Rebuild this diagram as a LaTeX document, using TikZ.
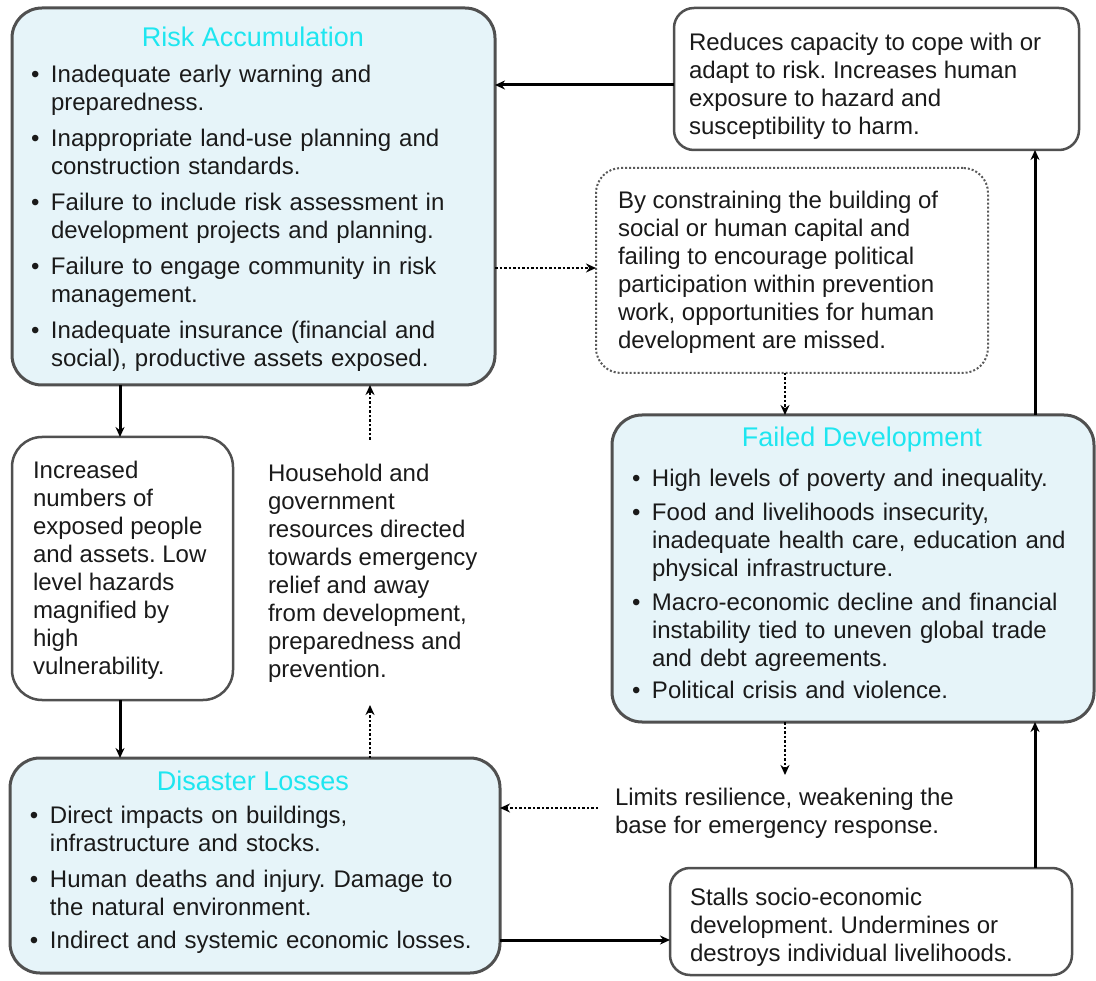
\documentclass[tikz,border=0pt]{standalone}
\usepackage{fontspec}
\setmainfont{Liberation Sans}
\usetikzlibrary{arrows.meta}
\definecolor{boxfill}{HTML}{E6F4F9}
\definecolor{titlecyan}{HTML}{1EE6F0}
\definecolor{bordergray}{HTML}{505050}
\definecolor{txt}{HTML}{1A1A1A}
\frenchspacing
\newcommand{\bitem}[1]{\noindent\hangindent=20pt\hangafter=1\makebox[20pt][l]{\textbullet}#1\par}
\newcommand{\bgap}[1]{\vspace{#1}}
\begin{document}
\begin{tikzpicture}[x=1pt,y=-1pt,
  every node/.style={inner sep=0pt, outer sep=0pt},
  bluebox/.style={draw=bordergray, line width=3pt, fill=boxfill, rounded corners=30pt, anchor=north west},
  whitebox/.style={draw=bordergray, line width=2.5pt, fill=white, rounded corners=20pt, anchor=north west},
  dotbox/.style={draw=gray!70!black, line width=2pt, dotted, rounded corners=25pt, anchor=north west},
  body/.style={anchor=north west, align=left, font=\fontsize{24}{28}\selectfont\frenchspacing, text=txt},
  ttl/.style={anchor=center, font=\fontsize{27}{30}\selectfont, text=titlecyan},
  arr/.style={line width=3pt, -{Stealth[length=10pt,width=9pt]}},
  darr/.style={line width=2.5pt, dotted, -{Stealth[length=10pt,width=9pt]}},
]
\useasboundingbox (0,0) rectangle (1096,981);

% boxes
\node[bluebox, minimum width=483pt, minimum height=377pt] (ra) at (12,8) {};
\node[whitebox, minimum width=405pt, minimum height=142pt] (red) at (674,8) {};
\node[dotbox, minimum width=392pt, minimum height=205pt] (dot) at (596,168) {};
\node[bluebox, minimum width=482pt, minimum height=307pt] (fd) at (612,415) {};
\node[whitebox, minimum width=221pt, minimum height=263pt, rounded corners=30pt] (inc) at (12,437) {};
\node[bluebox, minimum width=490pt, minimum height=215pt] (dl) at (10,758) {};
\node[whitebox, minimum width=402pt, minimum height=107pt] (st) at (670,868) {};

% titles
\node[ttl] (rat) at (253,37) {Risk Accumulation};
\node[ttl] (fdt) at (862,440) {Failed Development};
\node[ttl] (dlt) at (253,781) {Disaster Losses};

% texts
\node[body, text width=460pt] (rab) at (31,65) {%
\bitem{Inadequate early warning and\newline preparedness.}\bgap{8pt}
\bitem{Inappropriate land-use planning and\newline construction standards.}\bgap{8pt}
\bitem{Failure to include risk assessment in\newline development projects and planning.}\bgap{8pt}
\bitem{Failure to engage community in risk\newline management.}\bgap{8pt}
\bitem{Inadequate insurance (financial and\newline social), productive assets exposed.}};

\node[body] (redb) at (689,33) {Reduces capacity to cope with or\\adapt to risk. Increases human\\exposure to hazard and\\susceptibility to harm.};

\node[body] (dotb) at (618,191) {By constraining the building of\\social or human capital and\\failing to encourage political\\participation within prevention\\work, opportunities for human\\development are missed.};

\node[body, text width=460pt] (fdb) at (632,469) {%
\bitem{High levels of poverty and inequality.}\bgap{6pt}
\bitem{Food and livelihoods insecurity,\newline inadequate health care, education and\newline physical infrastructure.}\bgap{6pt}
\bitem{Macro-economic decline and financial\newline instability tied to uneven global trade\newline and debt agreements.}\bgap{4pt}
\bitem{Political crisis and violence.}};

\node[body] (incb) at (33,461) {Increased\\numbers of\\exposed people\\and assets. Low\\level hazards\\magnified by\\high\\vulnerability.};

\node[body] (hh) at (268,464) {Household and\\government\\resources directed\\towards emergency\\relief and away\\from development,\\preparedness and\\prevention.};

\node[body, text width=470pt] (dlb) at (30,806) {%
\bitem{Direct impacts on buildings,\newline infrastructure and stocks.}\bgap{8pt}
\bitem{Human deaths and injury. Damage to\newline the natural environment.}\bgap{5pt}
\bitem{Indirect and systemic economic losses.}};

\node[body] (lim) at (615,788) {Limits resilience, weakening the\\base for emergency response.};

\node[body] (stb) at (690,888) {Stalls socio-economic\\development. Undermines or\\destroys individual livelihoods.};

% helper coordinates
\coordinate (xA) at (120,0);
\coordinate (xB) at (370,0);
\coordinate (xC) at (785,0);
\coordinate (xD) at (1035,0);
\coordinate (yA) at (0,85);
\coordinate (yB) at (0,268);
\coordinate (yC) at (0,808);
\coordinate (yD) at (0,940);
\coordinate (hhtop) at (370,440);
\coordinate (hhbot) at (370,705);
\coordinate (limtop) at (785,775);
\coordinate (limleft) at (598,808);

% connectors
\draw[arr] (red.west |- yA) -- (ra.east |- yA);
\draw[darr] (ra.east |- yB) -- (dot.west |- yB);
\draw[darr] (dot.south -| xC) -- (fd.north -| xC);
\draw[arr] (fd.north -| xD) -- (red.south -| xD);
\draw[arr] (ra.south -| xA) -- (inc.north -| xA);
\draw[arr] (inc.south -| xA) -- (dl.north -| xA);
\draw[darr] (hhtop) -- (ra.south -| xB);
\draw[darr] (dl.north -| xB) -- (hhbot);
\draw[darr] (fd.south -| xC) -- (limtop);
\draw[darr] (limleft) -- (dl.east |- yC);
\draw[arr] (dl.east |- yD) -- (st.west |- yD);
\draw[arr] (st.north -| xD) -- (fd.south -| xD);
\end{tikzpicture}
\end{document}
